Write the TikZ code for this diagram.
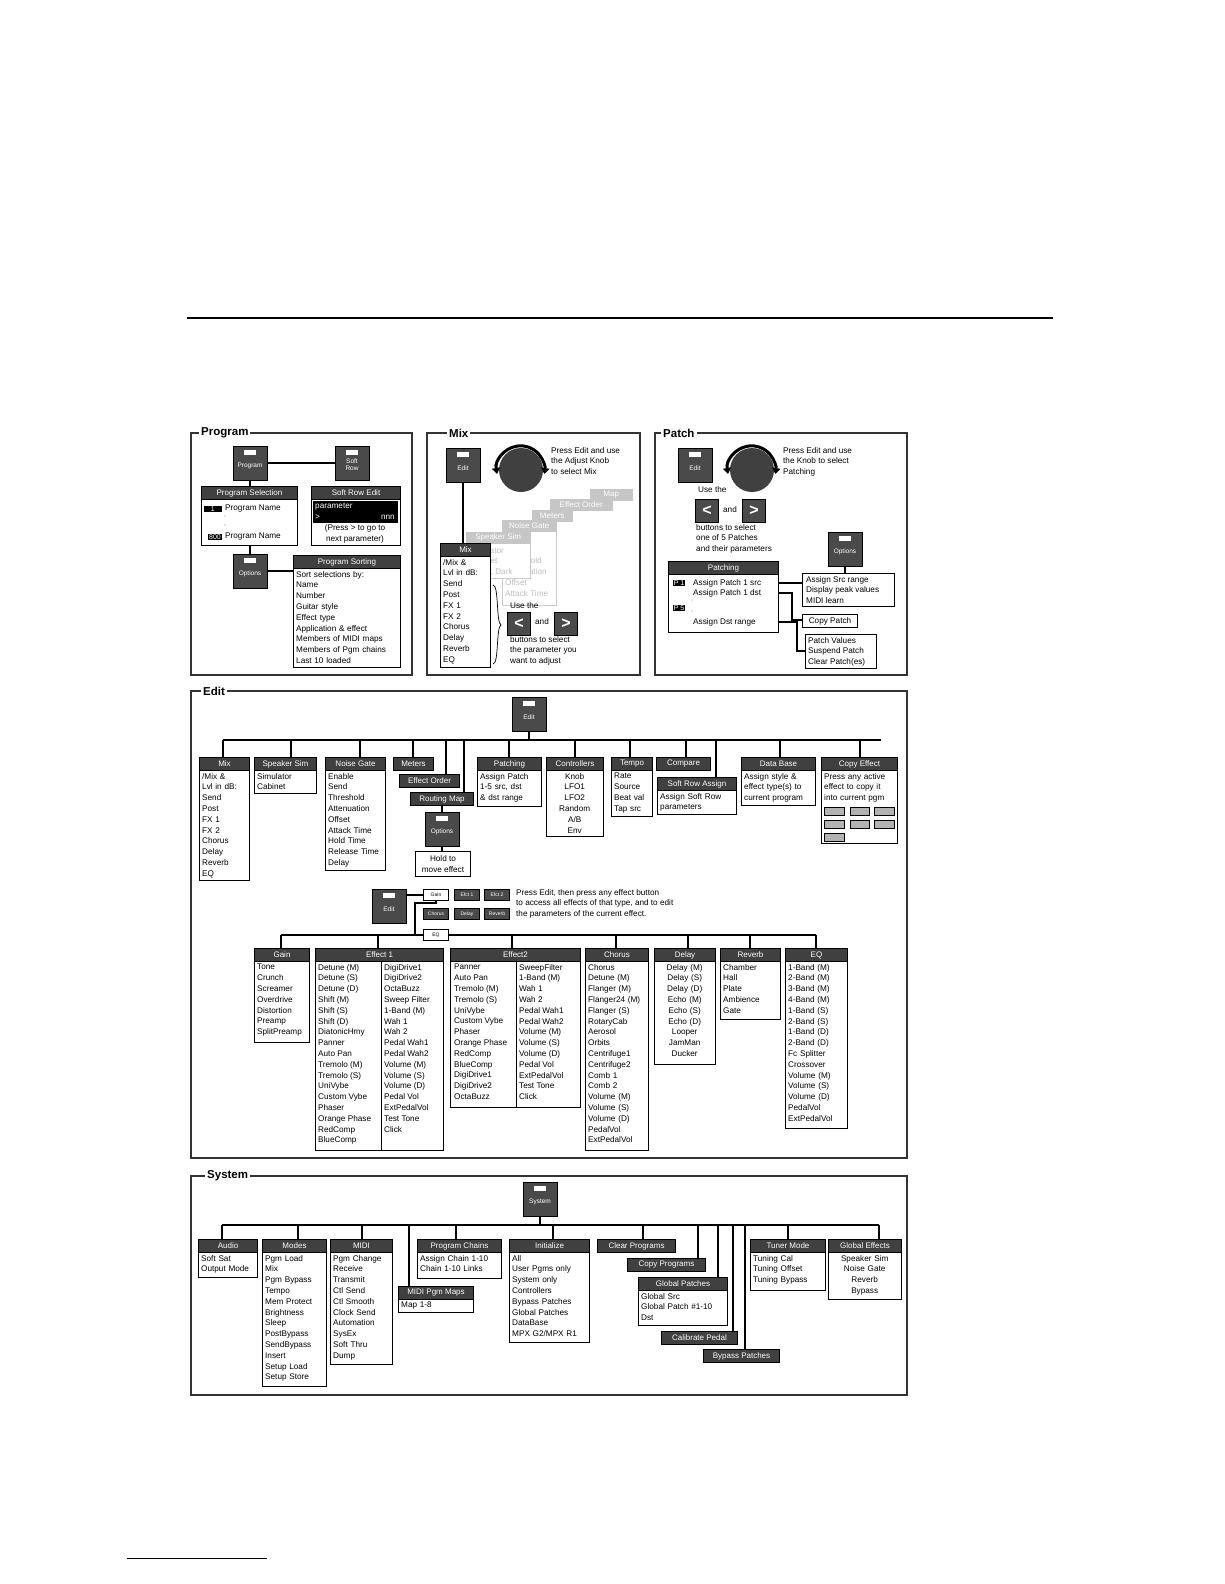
\documentclass[tikz,border=0pt]{standalone}
\usepackage{fontspec}
\setmainfont{Liberation Sans}
\usetikzlibrary{arrows.meta}
\definecolor{hdrc}{HTML}{404040}
\definecolor{btnc}{HTML}{4A4A4A}
\tikzset{
 frame/.style={draw=black!80, line width=1.2pt},
 ttl/.style={fill=white, inner sep=2pt, font=\bfseries\fontsize{11.5}{12}\selectfont},
 hdr/.style={draw=black, line width=1pt, fill=hdrc, text=white, inner sep=0pt, minimum height=13pt, font=\fontsize{8}{9}\selectfont},
 hdrf/.style={draw=gray!45, fill=gray!45, text=white, inner sep=0pt, minimum height=11pt, font=\fontsize{8}{9}\selectfont},
 bodyb/.style={draw=black, line width=1pt, fill=white, inner sep=0pt},
 txt/.style={inner sep=0pt, align=left, font=\fontsize{8.2}{10.8}\selectfont},
 conn/.style={draw=black, line width=2.2pt},
 knobarrow/.style={line width=3pt, {Triangle[length=6pt,width=8pt]}-{Triangle[length=6pt,width=8pt]}},
 btn/.style={draw=black, line width=0.8pt, fill=btnc, text=white, minimum width=34pt, minimum height=34pt, inner sep=0pt, align=center, font=\fontsize{6.5}{7}\selectfont,
   path picture={\fill[white] ([xshift=-6pt,yshift=-4pt]path picture bounding box.north) rectangle ++(12pt,-5pt);}},
 sbtn/.style={draw=black, line width=0.8pt, fill=btnc, text=white, minimum width=25pt, minimum height=11pt, inner sep=0pt, font=\fontsize{5}{6}\selectfont},
 wbtn/.style={sbtn, fill=white, text=black},
 arrbtn/.style={draw=black, fill=btnc, text=white, minimum width=23pt, minimum height=23pt, inner sep=0pt, font=\bfseries\fontsize{16}{16}\selectfont},
 blk/.style={fill=black, text=white, inner sep=1pt, font=\fontsize{7}{8}\selectfont},
}
\newcommand\lb[8]{%
 \node[bodyb, anchor=north west, minimum width={(#4-#2)*1pt}, minimum height={(#5-#3)*1pt}] (#1b) at (#2,#3) {};
 \node[hdr, anchor=north west, minimum width={(#4-#2)*1pt}] (#1) at (#2,#3) {#6};
 \node[txt, anchor=north west, text width={(#4-#2-6)*1pt}, align=#7] at (#2+3,#3+16) {#8};}
\newcommand\hb[5]{%
 \node[hdr, anchor=north west, minimum width={(#4-#2)*1pt}] (#1) at (#2,#3) {#5};}
\begin{document}
\begin{tikzpicture}[x=1pt,y=-1pt]
\path[use as bounding box] (0,0) rectangle (1224,1584);
\draw[line width=2.5pt] (187,318) -- (1053,318);
\draw[line width=0.6pt] (127,1558) -- (267,1558);

% ================= PROGRAM =================
\draw[frame] (191,433) rectangle (412,675);
\node[ttl, anchor=west] at (199,433) {Program};
\node[btn] (pgbtn) at (250,463) {\\[4pt]Program};
\node[btn] (srbtn) at (352,463) {\\[2pt]Soft\\Row};
\draw[conn] (pgbtn) -- (srbtn);
\lb{psel}{201}{486}{297}{545}{Program Selection}{left}{}
\node[blk, minimum width=18pt, anchor=east] (p1) at (222,509) {\hfill1};
\node[txt, anchor=west] at (225,509) {Program Name};
\node[txt] at (225,517) {$\cdot$};
\node[txt] at (225,526) {$\cdot$};
\node[blk, anchor=east] (p800) at (222,537) {800};
\node[txt, anchor=west] at (225,537) {Program Name};
\lb{sre}{311}{486}{400}{545}{Soft Row Edit}{left}{}
\fill[black] (313,501) rectangle (398,523);
\node[txt, text=white, anchor=west] at (315,507) {parameter};
\node[txt, text=white, anchor=west] at (315,517) {>};
\node[txt, text=white, anchor=east] at (395,517) {nnn};
\node[txt, align=center] at (355,534) {(Press > to go to\\next parameter)};
\node[btn] (opbtn) at (250,571) {\\[4pt]Options};
\lb{psort}{293}{555}{400}{667}{Program Sorting}{left}{Sort selections by:\\Name\\Number\\Guitar style\\Effect type\\Application \& effect\\Members of MIDI maps\\Members of Pgm chains\\Last 10 loaded}
\draw[conn] (pgbtn.south) -- (psel.north -| pgbtn.south);
\draw[conn] (pselb.south -| opbtn.north) -- (opbtn.north);
\draw[conn] (opbtn.east) -- (psort.west |- opbtn.east);

% ================= MIX =================
\draw[frame] (427,433) rectangle (640,675);
\node[ttl, anchor=west] at (447,433) {Mix};
\node[btn] (mxedit) at (463,465) {\\[4pt]Edit};
\fill[black!75] (521,470) circle (22);
\draw[knobarrow] (497,474) arc[start angle=190, end angle=-10, radius=24pt];
\node[txt, anchor=north west] at (551,447) {Press Edit and use\\the Adjust Knob\\to select Mix};
% faded cascade
\node[hdrf, anchor=north west, minimum width=42pt] at (590,489) {Map};
\node[hdrf, anchor=north west, minimum width=62pt] at (550,499) {Effect Order};
\node[hdrf, anchor=north west, minimum width=40pt] at (532,510) {Meters};
\draw[gray!40, fill=white] (502,531) rectangle (556,605);
\node[hdrf, anchor=north west, minimum width=54pt] at (502,520) {Noise Gate};
\node[txt, text=gray!50, anchor=north west] at (505,536) {Enable\\Send\\Threshold\\Attenuation\\Offset\\Attack Time};
\draw[gray!40, fill=white] (466,543) rectangle (530,578);
\node[hdrf, anchor=north west, minimum width=64pt] at (466,532) {Speaker Sim};
\node[txt, text=gray!50, anchor=north west] at (469,547) {Simulator\\Cabinet\\Warm, Dark};
\lb{mixm}{440}{543}{490}{667}{Mix}{left}{/Mix \&\\Lvl in dB:\\Send\\Post\\FX 1\\FX 2\\Chorus\\Delay\\Reverb\\EQ}
\draw[line width=0.7pt] (493,585) .. controls (499,585) and (496,623) .. (501,625) .. controls (496,627) and (499,664) .. (493,664);
\draw[conn] (mxedit.south) -- (mixm.north -| mxedit.south);
\node[txt, anchor=west] at (510,606) {Use the};
\node[arrbtn] (mxl) at (519,624) {<};
\node[txt] at (542,622) {and};
\node[arrbtn] (mxr) at (566,624) {>};
\node[txt, anchor=north west] at (510,636) {buttons to select\\the parameter you\\want to adjust};

% ================= PATCH =================
\draw[frame] (655,433) rectangle (907,675);
\node[ttl, anchor=west] at (661,433) {Patch};
\node[btn] (ptedit) at (695,465) {\\[4pt]Edit};
\fill[black!75] (752,470) circle (22);
\draw[knobarrow] (728,474) arc[start angle=190, end angle=-10, radius=24pt];
\node[txt, anchor=north west] at (783,447) {Press Edit and use\\the Knob to select\\Patching};
\node[txt, anchor=west] at (698,490) {Use the};
\node[arrbtn] (ptl) at (707,511) {<};
\node[txt] at (730,510) {and};
\node[arrbtn] (ptr) at (754,511) {>};
\node[txt, anchor=north west] at (696,524) {buttons to select\\one of 5 Patches\\and their parameters};
\node[btn] (ptopt) at (845,549) {\\[4pt]Options};
\lb{patching}{668}{561}{778}{632}{Patching}{left}{}
\node[blk] at (679,583) {P 1};
\node[txt, anchor=west] at (693,583) {Assign Patch 1 src};
\node[txt, anchor=west] at (693,593) {Assign Patch 1 dst};
\node[txt] at (692,601) {$\cdot$};
\node[blk] at (679,608) {P 5};
\node[txt] at (692,612) {$\cdot$};
\node[txt, anchor=west] at (693,622) {Assign Dst range};
\node[bodyb, anchor=north west, minimum width=92pt, minimum height=33pt] (asrc) at (802,573) {};
\node[txt, anchor=north west] at (806,576) {Assign Src range\\Display peak values\\MIDI learn};
\node[bodyb, anchor=north west, minimum width=55pt, minimum height=13pt, txt] (cpatch) at (802,614) {Copy Patch};
\node[bodyb, anchor=north west, minimum width=71pt, minimum height=34pt] (pvals) at (805,634) {};
\node[txt, anchor=north west] at (808,637) {Patch Values\\Suspend Patch\\Clear Patch(es)};
\coordinate (psrc) at (778,583);
\coordinate (pdst) at (778,593);
\coordinate (prng) at (778,622);
\draw[conn] (ptopt.south) -- (asrc.north -| ptopt.south);
\draw[conn] (psrc) -- (psrc -| asrc.west);
\draw[conn] (pdst) -| (792,620) -- (cpatch.west |- 0,620);
\draw[conn] (prng) -| (797,651) -- (pvals.west |- 0,651);

% ================= EDIT =================
\draw[frame] (191,691) rectangle (907,1158);
\node[ttl, anchor=west] at (201,691) {Edit};
\node[btn] (edbtn) at (529,714) {\\[4pt]Edit};
\draw[conn] (edbtn.south) -- (529,740);
\draw[conn] (223,740) -- (881,740);
\lb{emix}{199}{757}{249}{880}{Mix}{left}{/Mix \&\\Lvl in dB:\\Send\\Post\\FX 1\\FX 2\\Chorus\\Delay\\Reverb\\EQ}
\lb{espk}{254}{757}{316}{793}{Speaker Sim}{left}{Simulator\\Cabinet}
\lb{engate}{325}{757}{385}{870}{Noise Gate}{left}{Enable\\Send\\Threshold\\Attenuation\\Offset\\Attack Time\\Hold Time\\Release Time\\Delay}
\hb{emet}{393}{757}{433}{Meters}
\hb{eord}{399}{774}{459}{Effect Order}
\hb{eroute}{410}{792}{473}{Routing Map}
\node[btn] (eopt) at (442,829) {\\[4pt]Options};
\node[bodyb, anchor=north west, minimum width=55pt, minimum height=25pt] (ehold) at (415,851) {};
\node[txt, align=center] at (ehold.center) {Hold to\\move effect};
\lb{epatch}{477}{757}{541}{806}{Patching}{left}{Assign Patch\\1-5 src, dst\\\& dst range}
\lb{ectrl}{546}{757}{603}{836}{Controllers}{center}{Knob\\LFO1\\LFO2\\Random\\A/B\\Env}
\lb{etempo}{611}{757}{652}{816}{Tempo}{left}{Rate\\Source\\Beat val\\Tap src}
\hb{ecomp}{656}{757}{710}{Compare}
\lb{esra}{657}{777}{736}{814}{Soft Row Assign}{left}{Assign Soft Row\\parameters}
\lb{edb}{741}{757}{815}{805}{Data Base}{left}{Assign style \&\\effect type(s) to\\current program}
\lb{ecopy}{821}{757}{897}{843}{Copy Effect}{left}{Press any active\\effect to copy it\\into current pgm}
\foreach \xx/\yy/\ww in {824/807/20, 850/807/19, 874/807/20, 824/820/20, 850/820/19, 874/820/20, 824/833/20}
  \draw[line width=0.8pt, fill=gray!60] (\xx,\yy) rectangle ++(\ww,8);
\foreach \xx/\yy in {223/757, 291/757, 360/757, 413/757, 446/774, 464/792, 509/757, 575/757, 630/757, 686/757, 716/777, 780/757, 860/757}
  \draw[conn] (\xx,740) -- (\xx,\yy);
\draw[conn] (eroute.south -| eopt.north) -- (eopt.north);
\draw[conn] (eopt.south) -- (ehold.north -| eopt.south);

% effect buttons
\node[btn] (edbtn2) at (389,906) {\\[4pt]Edit};
\node[wbtn] (bgain) at (436,895) {Gain};
\node[sbtn] (be1) at (467,895) {Efct 1};
\node[sbtn] (be2) at (497,895) {Efct 2};
\node[sbtn] (bcho) at (436,914) {Chorus};
\node[sbtn] (bdly) at (467,914) {Delay};
\node[sbtn] (brev) at (497,914) {Reverb};
\node[txt, anchor=north west] at (516,889) {Press Edit, then press any effect button\\to access all effects of that type, and to edit\\the parameters of the current effect.};
\draw[conn] (edbtn2.east |- bgain.west) -- (bgain.west);
\draw[conn] (bgain.south) -- (436,903) -- (415,903) -- (415,935);
\draw[conn] (281,935) -- (816,935);
\foreach \xx in {281, 378, 512, 616, 688, 750, 816}
  \draw[conn] (\xx,935) -- (\xx,948);
\node[wbtn] (beq) at (436,935) {EQ};

\lb{gain}{254}{948}{309}{1042}{Gain}{left}{Tone\\Crunch\\Screamer\\Overdrive\\Distortion\\Preamp\\SplitPreamp}
\lb{eff1}{315}{948}{443}{1150}{Effect 1}{left}{}
\draw[line width=1pt] (381,961) -- (381,1150);
\node[txt, anchor=north west] at (318,964) {Detune (M)\\Detune (S)\\Detune (D)\\Shift (M)\\Shift (S)\\Shift (D)\\DiatonicHmy\\Panner\\Auto Pan\\Tremolo (M)\\Tremolo (S)\\UniVybe\\Custom Vybe\\Phaser\\Orange Phase\\RedComp\\BlueComp};
\node[txt, anchor=north west] at (384,964) {DigiDrive1\\DigiDrive2\\OctaBuzz\\Sweep Filter\\1-Band (M)\\Wah 1\\Wah 2\\Pedal Wah1\\Pedal Wah2\\Volume (M)\\Volume (S)\\Volume (D)\\Pedal Vol\\ExtPedalVol\\Test Tone\\Click};
\lb{eff2}{450}{948}{580}{1107}{Effect2}{left}{}
\draw[line width=1pt] (516,961) -- (516,1107);
\node[txt, anchor=north west] at (454,964) {Panner\\Auto Pan\\Tremolo (M)\\Tremolo (S)\\UniVybe\\Custom Vybe\\Phaser\\Orange Phase\\RedComp\\BlueComp\\DigiDrive1\\DigiDrive2\\OctaBuzz};
\node[txt, anchor=north west] at (519,964) {SweepFilter\\1-Band (M)\\Wah 1\\Wah 2\\Pedal Wah1\\Pedal Wah2\\Volume (M)\\Volume (S)\\Volume (D)\\Pedal Vol\\ExtPedalVol\\Test Tone\\Click};
\lb{cho}{585}{948}{648}{1150}{Chorus}{left}{Chorus\\Detune (M)\\Flanger (M)\\Flanger24 (M)\\Flanger (S)\\RotaryCab\\Aerosol\\Orbits\\Centrifuge1\\Centrifuge2\\Comb 1\\Comb 2\\Volume (M)\\Volume (S)\\Volume (D)\\PedalVol\\ExtPedalVol}
\lb{dly}{654}{948}{715}{1064}{Delay}{center}{Delay (M)\\Delay (S)\\Delay (D)\\Echo (M)\\Echo (S)\\Echo (D)\\Looper\\JamMan\\Ducker}
\lb{rev}{720}{948}{780}{1019}{Reverb}{left}{Chamber\\Hall\\Plate\\Ambience\\Gate}
\lb{eq}{785}{948}{847}{1128}{EQ}{left}{1-Band (M)\\2-Band (M)\\3-Band (M)\\4-Band (M)\\1-Band (S)\\2-Band (S)\\1-Band (D)\\2-Band (D)\\Fc Splitter\\Crossover\\Volume (M)\\Volume (S)\\Volume (D)\\PedalVol\\ExtPedalVol}

% ================= SYSTEM =================
\draw[frame] (191,1176) rectangle (907,1395);
\node[ttl, anchor=west] at (205,1176) {System};
\node[btn] (sysbtn) at (540,1199) {\\[4pt]System};
\draw[conn] (sysbtn.south) -- (540,1225);
\draw[conn] (222,1225) -- (879,1225);
\lb{audio}{198}{1239}{257}{1277}{Audio}{left}{Soft Sat\\Output Mode}
\lb{modes}{262}{1239}{326}{1386}{Modes}{left}{Pgm Load\\Mix\\Pgm Bypass\\Tempo\\Mem Protect\\Brightness\\Sleep\\PostBypass\\SendBypass\\Insert\\Setup Load\\Setup Store}
\lb{midi}{330}{1239}{392}{1364}{MIDI}{left}{Pgm Change\\Receive\\Transmit\\Ctl Send\\Ctl Smooth\\Clock Send\\Automation\\SysEx\\Soft Thru\\Dump}
\lb{maps}{398}{1286}{473}{1312}{MIDI Pgm Maps}{left}{Map 1-8}
\lb{chains}{417}{1239}{501}{1278}{Program Chains}{left}{Assign Chain 1-10\\Chain 1-10 Links}
\lb{init}{509}{1239}{589}{1342}{Initialize}{left}{All\\User Pgms only\\System only\\Controllers\\Bypass Patches\\Global Patches\\DataBase\\MPX G2/MPX R1}
\hb{clear}{597}{1239}{675}{Clear Programs}
\hb{copyp}{627}{1258}{705}{Copy Programs}
\lb{glob}{638}{1277}{727}{1325}{Global Patches}{left}{Global Src\\Global Patch \#1-10\\Dst}
\hb{calib}{661}{1331}{737}{Calibrate Pedal}
\hb{bypass}{703}{1349}{779}{Bypass Patches}
\lb{tuner}{750}{1239}{825}{1290}{Tuner Mode}{left}{Tuning Cal\\Tuning Offset\\Tuning Bypass}
\lb{geff}{828}{1239}{901}{1299}{Global Effects}{center}{Speaker Sim\\Noise Gate\\Reverb\\Bypass}
\foreach \xx/\yy in {222/1239, 298/1239, 362/1239, 409/1286, 456/1239, 553/1239, 643/1239, 698/1258, 718/1277, 733/1331, 745/1349, 788/1239, 879/1239}
  \draw[conn] (\xx,1225) -- (\xx,\yy);
\end{tikzpicture}
\end{document}
